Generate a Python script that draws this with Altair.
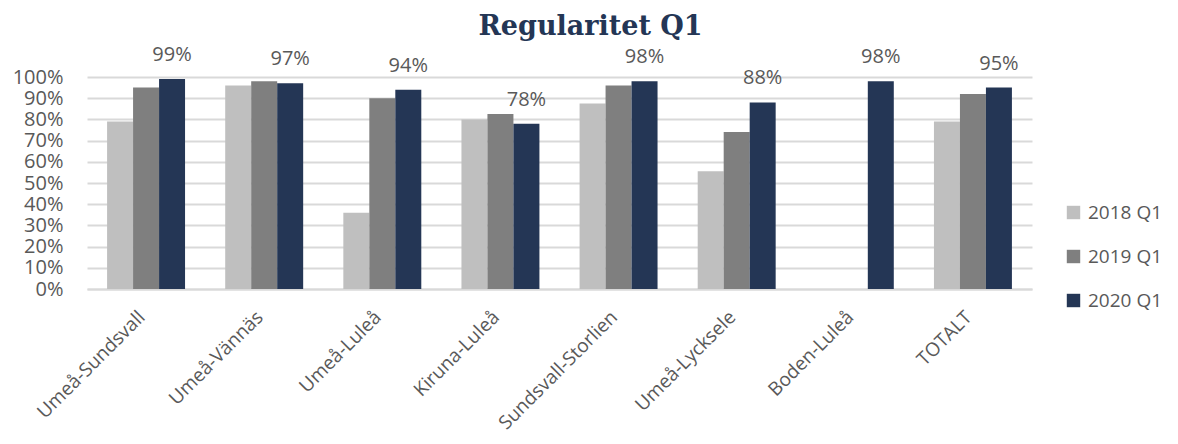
import altair as alt
import pandas as pd

routes = ["Umeå-Sundsvall", "Umeå-Vännäs", "Umeå-Luleå", "Kiruna-Luleå",
          "Sundsvall-Storlien", "Umeå-Lycksele", "Boden-Luleå", "TOTALT"]
series = ["2018 Q1", "2019 Q1", "2020 Q1"]
v2018 = [0.79, 0.96, 0.36, 0.80, 0.875, 0.555, None, 0.79]
v2019 = [0.95, 0.98, 0.90, 0.825, 0.96, 0.74, None, 0.92]
v2020 = [0.99, 0.97, 0.94, 0.78, 0.98, 0.88, 0.98, 0.95]
y_ticks = [0.0, 0.1, 0.2, 0.3, 0.4, 0.5, 0.6, 0.7, 0.8, 0.9, 1.0]
colors = ["#BFBFBF", "#7F7F7F", "#243655"]

rows = []
for s, vals in zip(series, [v2018, v2019, v2020]):
    for r, v in zip(routes, vals):
        if v is not None:
            rows.append({"route": r, "series": s, "value": v})
df = pd.DataFrame(rows)

FONT = "Open Sans"
GREY = "#595959"

x = alt.X("route:N", sort=routes, title=None,
          scale=alt.Scale(paddingInner=0.34, paddingOuter=0.17),
          axis=alt.Axis(labelAngle=-45, labelAlign="right", labelBaseline="alphabetic",
                        labelFont=FONT, labelFontSize=19, labelColor=GREY,
                        labelPadding=29, ticks=False, domainColor="#D9D9D9",
                        domainWidth=2, labelOverlap=False))
xo = alt.XOffset("series:N", sort=series, scale=alt.Scale(domain=series))
y = alt.Y("value:Q", title=None,
          scale=alt.Scale(domain=[0, 1], nice=False),
          axis=alt.Axis(values=y_ticks, format=".0%",
                        labelFont=FONT, labelFontSize=20, labelColor=GREY,
                        labelPadding=24, ticks=False, domain=False,
                        labelOverlap=False, labelBound=False,
                        gridColor="#D9D9D9", gridWidth=2))

bars = alt.Chart(df).mark_bar().encode(
    x=x,
    xOffset=xo,
    y=y,
    color=alt.Color("series:N", sort=series,
                    scale=alt.Scale(domain=series, range=colors),
                    legend=alt.Legend(title=None, orient="none", legendX=977, legendY=126,
                                      symbolType="square", symbolSize=180,
                                      symbolStrokeWidth=0,
                                      labelFont=FONT, labelFontSize=19, labelColor=GREY,
                                      rowPadding=24, labelOffset=5)),
)

labels = alt.Chart(df).transform_filter(
    alt.datum.series == "2020 Q1"
).mark_text(font=FONT, fontSize=20, color=GREY, baseline="alphabetic", dy=-18).encode(
    x=x,
    xOffset=xo,
    y=y,
    text=alt.Text("value:Q", format=".0%"),
)

chart = alt.layer(bars, labels).properties(
    width=945, height=212,
    padding={"left": 79, "top": 69, "right": 138, "bottom": 147},
    autosize=alt.AutoSizeParams(type="none"),
    title=alt.TitleParams("Regularitet Q1", font="DejaVu Serif", fontSize=27,
                          fontWeight="bold", color="#243655", anchor="middle",
                          frame="group", dx=31, offset=4),
).configure_view(stroke=None)

chart.save("out.html", embed_options={"renderer": "svg", "actions": False})
